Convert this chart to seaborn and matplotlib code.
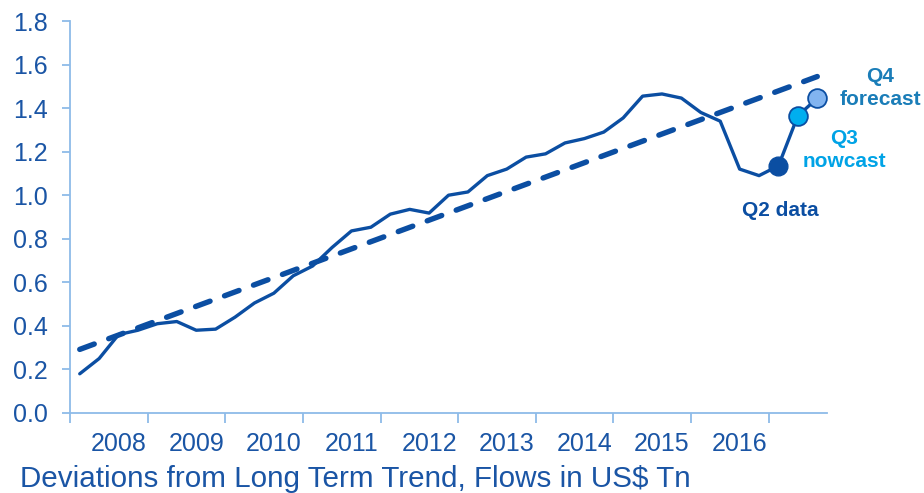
import matplotlib
matplotlib.use("Agg")
import matplotlib.pyplot as plt
import seaborn as sns
import pandas as pd

# Quarterly flows, deviations from long term trend (US$ Tn)
quarter_idx = list(range(37))
flows = [0.18, 0.25, 0.36, 0.38, 0.41, 0.42, 0.38, 0.385, 0.44, 0.505,
         0.55, 0.63, 0.675, 0.76, 0.836, 0.853, 0.913, 0.935, 0.918, 1.0,
         1.015, 1.09, 1.12, 1.175, 1.19, 1.24, 1.26, 1.29, 1.355, 1.455,
         1.465, 1.446, 1.38, 1.34, 1.12, 1.09, 1.135]

# Nowcast / forecast extension
ext_idx = [36, 37, 38]
ext_vals = [1.135, 1.365, 1.445]

# Long term trend (start and end)
trend_idx = [0, 38]
trend_vals = [0.292, 1.545]

years = ["2008", "2009", "2010", "2011", "2012", "2013", "2014", "2015", "2016"]
yticks = [0.0, 0.2, 0.4, 0.6, 0.8, 1.0, 1.2, 1.4, 1.6, 1.8]

line_col = "#0b4ea2"
text_col = "#1a55a5"
spine_col = "#8dbbe8"

sns.set_style("white")
plt.rcParams["font.family"] = ["Liberation Sans", "DejaVu Sans"]

fig = plt.figure(figsize=(9.24, 4.93), dpi=100)
ax = fig.add_axes([0.0758, 0.1623, 0.8192, 0.7951])

df = pd.DataFrame({"q": quarter_idx, "v": flows})
sns.lineplot(data=df, x="q", y="v", ax=ax, color=line_col, linewidth=2.4)

ax.plot(trend_idx, trend_vals, color=line_col, linewidth=3.9,
        dashes=(2.85, 2.85), dash_capstyle="round", zorder=1)

ax.plot(ext_idx, ext_vals, color=line_col, linewidth=2.4, zorder=2)
ax.plot(ext_idx[0], ext_vals[0], "o", ms=13.5, color=line_col, mec=line_col, zorder=3)
ax.plot(ext_idx[1], ext_vals[1], "o", ms=13.5, color="#00aeef", mec=line_col, mew=1.3, zorder=3)
ax.plot(ext_idx[2], ext_vals[2], "o", ms=13.5, color="#82b4f0", mec=line_col, mew=1.3, zorder=3)

ax.text(36.1, 0.932, "Q2 data", color=line_col, fontsize=15, fontweight="bold",
        ha="center", va="center")
ax.text(39.4, 1.207, "Q3\nnowcast", color="#00a3e6", fontsize=15, fontweight="bold",
        ha="center", va="center", linespacing=1.25, clip_on=False)
ax.text(41.26, 1.492, "Q4\nforecast", color="#1a7db8", fontsize=15, fontweight="bold",
        ha="center", va="center", linespacing=1.25, clip_on=False)

# Axes
ax.set_xlim(-0.5, 38.5)
ax.set_ylim(0, 1.8)
ax.set_yticks(yticks)
ax.set_yticklabels([f"{t:.1f}" for t in yticks])
ax.set_xticks([4 * k - 0.5 for k in range(10)])
ax.set_xticklabels([])
ax.set_xticks([4 * k + 2 for k in range(9)], minor=True)
ax.set_xticklabels(years, minor=True)
ax.tick_params(axis="x", which="major", direction="out", length=7, width=1.3,
               color=spine_col, bottom=True)
ax.tick_params(axis="x", which="minor", length=0, pad=14, labelsize=18,
               labelcolor=text_col)
ax.tick_params(axis="y", direction="out", length=6, width=1.3, color=spine_col,
               left=True, pad=10, labelsize=18, labelcolor=text_col)
ax.set_xlabel("")
ax.set_ylabel("")

for s in ["top", "right"]:
    ax.spines[s].set_visible(False)
for s in ["left", "bottom"]:
    ax.spines[s].set_color(spine_col)
    ax.spines[s].set_linewidth(1.3)

fig.text(0.022, 0.012, "Deviations from Long Term Trend, Flows in US$ Tn",
         color=text_col, fontsize=21.3, ha="left", va="baseline")

plt.savefig("out.png", dpi=100)
